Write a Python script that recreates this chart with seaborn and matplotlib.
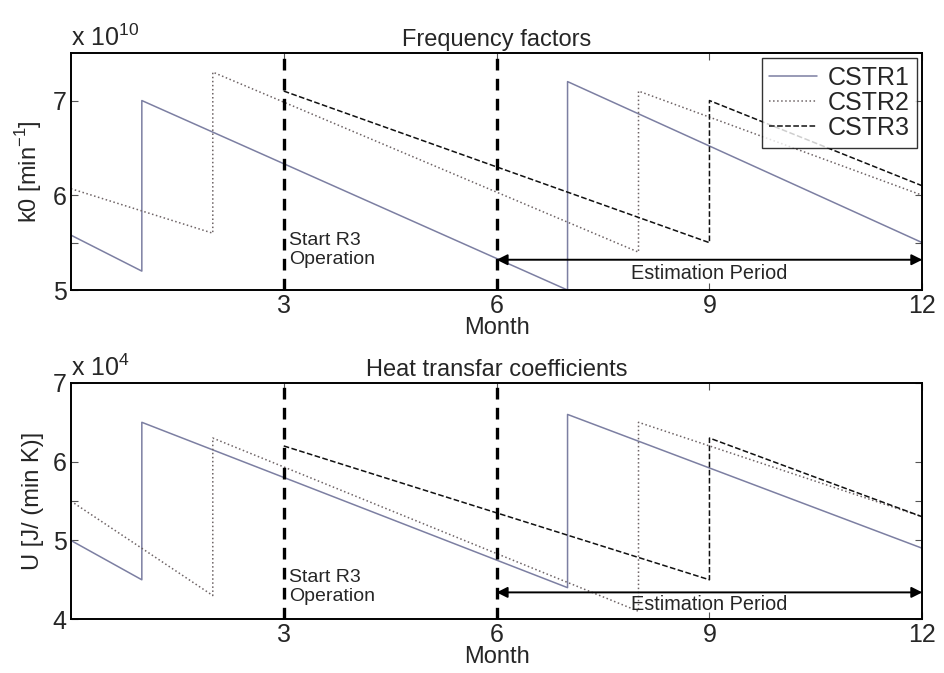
import numpy as np
import pandas as pd
import matplotlib
matplotlib.use("Agg")
import matplotlib.pyplot as plt
import seaborn as sns

# month break points (repeated x = jump after catalyst / cleaning)
months_r1 = [0, 1, 1, 7, 7, 12]
months_r2 = [0, 2, 2, 8, 8, 12]
months_r3 = [3, 9, 9, 12]

# frequency factors, x 1e10 min^-1
k0_cstr1 = [5.58, 5.2, 7.0, 5.0, 7.2, 5.5]
k0_cstr2 = [6.07, 5.6, 7.3, 5.4, 7.1, 6.0]
k0_cstr3 = [7.1, 5.5, 7.0, 6.1]

# heat transfer coefficients, x 1e4 J/(min K)
u_cstr1 = [5.0, 4.5, 6.5, 4.4, 6.6, 4.9]
u_cstr2 = [5.5, 4.3, 6.3, 4.1, 6.5, 5.3]
u_cstr3 = [6.2, 4.5, 6.3, 5.3]

reactors = ["CSTR1", "CSTR2", "CSTR3"]
month_ticks = [3, 6, 9, 12]
start_r3 = 3
est_start, est_end = 6, 12

sns.set_theme(style="white")
plt.rcParams["font.family"] = ["Liberation Sans", "DejaVu Sans"]
plt.rcParams["mathtext.fontset"] = "custom"
plt.rcParams["mathtext.rm"] = "Liberation Sans"

colors = {"CSTR1": "#7c7fa2", "CSTR2": "#6e6466", "CSTR3": "#111111"}
styles = {"CSTR1": "-", "CSTR2": ":", "CSTR3": "--"}


def make_frame(vals):
    rows = []
    for name, xs, ys in zip(reactors, [months_r1, months_r2, months_r3], vals):
        for i, (x, y) in enumerate(zip(xs, ys)):
            rows.append({"month": x, "value": y, "reactor": name, "order": i})
    return pd.DataFrame(rows)


def draw_panel(ax, df, ylim, yticks, ylabels, title, ylabel, scale_exp,
               arrow_y, est_text_y, start_text_y):
    for name in reactors:
        sub = df[df.reactor == name].sort_values("order")
        sns.lineplot(data=sub, x="month", y="value", ax=ax, sort=False,
                     estimator=None, color=colors[name], linestyle=styles[name],
                     linewidth=1.1, label=name)
    for xv in (start_r3, est_start):
        ax.axvline(xv, color="black", linestyle=(0, (3.5, 2.5)), linewidth=2.4)
    ax.set_xlim(0, 12)
    ax.set_ylim(*ylim)
    ax.set_xticks(month_ticks)
    ax.set_xticklabels([str(m) for m in month_ticks])
    ax.set_yticks(yticks)
    ax.set_yticklabels(ylabels)
    ax.tick_params(axis="both", labelsize=18, direction="in", length=5,
                   width=0.8, color="#555555", pad=3, right=True, top=True,
                   left=True, bottom=True)
    for sp in ax.spines.values():
        sp.set_visible(True)
        sp.set_color("black")
        sp.set_linewidth(1.4)
    ax.set_title(title, fontsize=17, pad=5)
    ax.set_xlabel("Month", fontsize=17, labelpad=-1)
    ax.set_ylabel(ylabel, fontsize=17, labelpad=6)
    ax.text(0.0, 1.01, r"x 10$^{%d}$" % scale_exp, transform=ax.transAxes,
            fontsize=18, ha="left", va="bottom")
    ax.annotate("", xy=(est_end, arrow_y), xytext=(est_start, arrow_y),
                arrowprops=dict(arrowstyle="<|-|>", color="black", lw=1.4,
                                mutation_scale=16, shrinkA=0, shrinkB=0))
    ax.text((est_start + est_end) / 2, est_text_y, "Estimation Period",
            fontsize=14.3, ha="center", va="center")
    ax.text(start_r3 + 0.07, start_text_y, "Start R3\nOperation",
            fontsize=14, ha="left", va="center", linespacing=1.15)


fig = plt.figure(figsize=(9.45, 6.73), dpi=100)
ax1 = fig.add_axes([0.075, 0.569, 0.901, 0.352])
ax2 = fig.add_axes([0.075, 0.080, 0.901, 0.351])

draw_panel(ax1, make_frame([k0_cstr1, k0_cstr2, k0_cstr3]), (5, 7.5),
           [5, 5.5, 6, 7], ["5", "", "6", "7"], "Frequency factors",
           r"k0 [min$^{-1}$]", 10, 5.32, 5.17, 5.42)
ax1.legend(loc="upper right", fontsize=18, frameon=True, fancybox=False,
           edgecolor="black", borderpad=0.3, labelspacing=0.05,
           handlelength=1.9, handletextpad=0.45, borderaxespad=0.2)
ax1.get_legend().get_frame().set_linewidth(1.0)

draw_panel(ax2, make_frame([u_cstr1, u_cstr2, u_cstr3]), (4, 7),
           [4, 5, 5.5, 6, 7], ["4", "5", "", "6", "7"],
           "Heat transfar coefficients", "U [J/ (min K)]", 4,
           4.34, 4.19, 4.41)
ax2.get_legend().remove()

fig.savefig("out.png", dpi=100)
